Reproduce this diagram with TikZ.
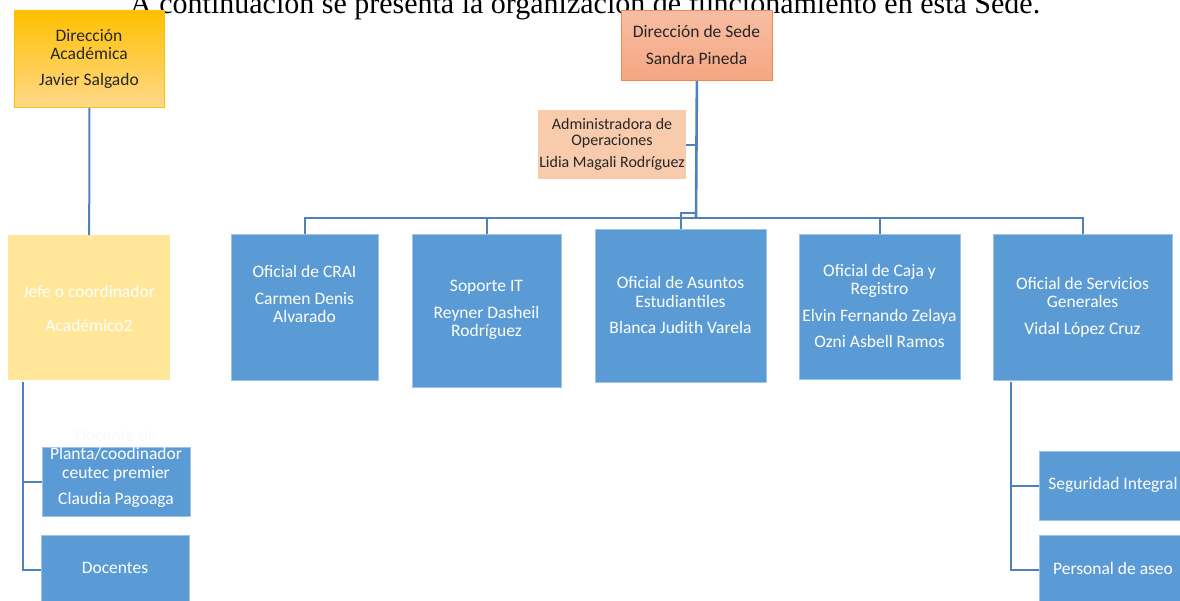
\documentclass[tikz,border=0pt]{standalone}
\usepackage{fontspec}
\setmainfont{Carlito}
\newfontfamily\titlefont{Liberation Serif}
\usetikzlibrary{calc}
\definecolor{blueF}{RGB}{91,155,213}
\definecolor{blueB}{RGB}{157,195,230}
\definecolor{lineC}{RGB}{79,129,189}
\definecolor{jefeF}{RGB}{255,230,153}
\definecolor{aoF}{RGB}{248,203,173}
\definecolor{dtext}{RGB}{38,38,38}
\definecolor{faint}{RGB}{249,249,249}
\tikzset{
  box/.style={rectangle, anchor=north west, inner sep=0pt},
  bluebox/.style={box, fill=blueF, draw=blueB, line width=0.8pt},
  wtext/.style={text=white, align=center, font=\fontsize{17.5}{18.5}\selectfont, inner sep=0pt},
  dtxt/.style={text=dtext, align=center, font=\fontsize{17.5}{18.5}\selectfont, inner sep=0pt},
  conn/.style={draw=lineC, line width=2pt},
}
\begin{document}
\begin{tikzpicture}[x=1pt,y=-1pt]
\useasboundingbox (0,0) rectangle (1180,600);
% title (clipped at top of page, as in the reference)
\node[anchor=base west, inner sep=0pt, font=\titlefont\fontsize{30}{34}\selectfont] (title) at (130,13) {A continuación se presenta la organización de funcionamiento en esta Sede.};
% top boxes
\node[box, minimum width=150, minimum height=97, top color={rgb,255:red,255;green,192;blue,0}, bottom color={rgb,255:red,255;green,217;blue,138}, draw={rgb,255:red,255;green,192;blue,0}, line width=0.8pt] (da) at (14,10) {};
\node[dtxt] (daT) at (89,58.5) {Dirección\\Académica\\[7pt]Javier Salgado};
\node[box, minimum width=151, minimum height=70, top color={rgb,255:red,248;green,190;blue,163}, bottom color={rgb,255:red,244;green,166;blue,130}, draw={rgb,255:red,240;green,136;blue,76}, line width=0.8pt] (ds) at (621,10) {};
\node[dtxt] (dsT) at (696.5,45) {Dirección de Sede\\[8pt]Sandra Pineda};
\node[box, minimum width=148, minimum height=69, fill=aoF] (ao) at (538,110) {};
\node[dtxt, font=\fontsize{16}{16.5}\selectfont] (aoT) at (612,144) {Administradora de\\Operaciones\\[5pt]Lidia Magali Rodríguez};
% second level
\node[box, minimum width=162, minimum height=145, fill=jefeF] (jefe) at (8,235) {};
\node[wtext] (jefeT) at (89,308.5) {Jefe o coordinador\\[15pt]Académico2};
\node[bluebox, minimum width=147, minimum height=146] (crai) at (231,234) {};
\node[wtext] (craiT) at (304.5,294) {Oficial de CRAI\\[8pt]Carmen Denis\\Alvarado};
\node[bluebox, minimum width=149, minimum height=153] (sop) at (412,234) {};
\node[wtext] (sopT) at (486.5,310) {Soporte IT\\[8pt]Reyner Dasheil\\Rodríguez};
\node[bluebox, minimum width=171, minimum height=153] (ase) at (595,229) {};
\node[wtext] (aseT) at (680.5,305) {Oficial de Asuntos\\Estudiantiles\\[8pt]Blanca Judith Varela};
\node[bluebox, minimum width=161, minimum height=145] (caja) at (799,234) {};
\node[wtext] (cajaT) at (879.5,306) {Oficial de Caja y\\Registro\\[8pt]Elvin Fernando Zelaya\\[8pt]Ozni Asbell Ramos};
\node[bluebox, minimum width=179, minimum height=146] (serv) at (993,234) {};
\node[wtext] (servT) at (1082.5,307) {Oficial de Servicios\\Generales\\[8pt]Vidal López Cruz};
% third level
\node[bluebox, minimum width=148, minimum height=69] (pla) at (42,447) {};
\node[wtext] (plaT) at (116,468.5) {\textcolor{faint}{Docente de}\\Planta/coodinador\\ceutec premier\\[8pt]Claudia Pagoaga};
\node[bluebox, minimum width=148, minimum height=70] (doc) at (41,535) {};
\node[wtext] (docT) at (115,568) {Docentes};
\node[bluebox, minimum width=150, minimum height=69] (seg) at (1039,451) {};
\node[wtext] (segT) at (1113,485) {Seguridad Integral};
\node[bluebox, minimum width=150, minimum height=70] (aseo) at (1039,535) {};
\node[wtext] (aseoT) at (1113,568) {Personal de aseo};
% connectors
\coordinate (bus) at (696,218);
\coordinate (jog) at (696,213);
\coordinate (jtop) at (23,382);
\coordinate (stop) at (1011,382);
\draw[conn] (da.south) -- (jefe.north);
\draw[conn, line width=2.6pt] (ds.south) -- (bus);
\draw[conn] (ao.east) -- (ao.east -| bus);
\draw[conn] (crai.north) -- (crai.north |- bus) -- (serv.north |- bus) -- (serv.north);
\draw[conn] (sop.north) -- (sop.north |- bus);
\draw[conn] (caja.north) -- (caja.north |- bus);
\draw[conn] (ase.north) |- (jog);
\draw[conn] (jtop) |- (doc.west);
\draw[conn] (jtop |- pla.west) -- (pla.west);
\draw[conn] (stop) |- (aseo.west);
\draw[conn] (stop |- seg.west) -- (seg.west);
\end{tikzpicture}
\end{document}
